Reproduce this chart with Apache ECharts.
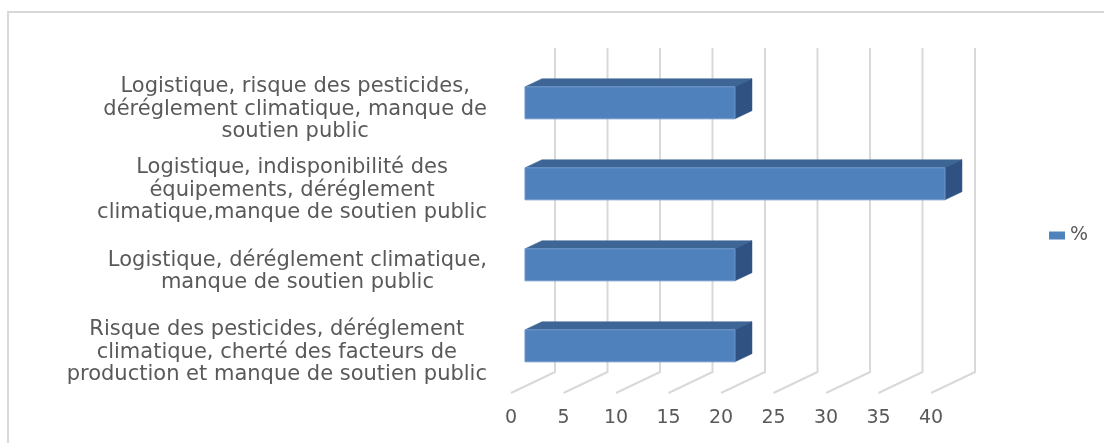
<!DOCTYPE html>
<html>
<head>
<meta charset="utf-8">
<script src="https://cdn.jsdelivr.net/npm/echarts@6/dist/echarts.min.js"></script>
<style>html,body{margin:0;padding:0;background:#fff;}#chart{width:1104px;height:443px;}</style>
</head>
<body>
<div id="chart"></div>
<script>
// ---- data ----
const categories = [
  "Logistique, risque des pesticides,\ndéréglement climatique, manque de\nsoutien public",
  "Logistique, indisponibilité des\néquipements, déréglement\nclimatique,manque de soutien public",
  "Logistique, déréglement climatique,\nmanque de soutien public",
  "Risque des pesticides, déréglement\nclimatique, cherté des facteurs de\nproduction et manque de soutien public"
];
const seriesName = "%";
const values = [20, 40, 20, 20];
const tickValues = [0, 5, 10, 15, 20, 25, 30, 35, 40];

// ---- style constants ----
const DX = 44, DY = 21;          // depth of the 3D floor
const FRONT = '#4f81bd', TOP = '#3d6596', SIDE = '#2f5282';
const GRID_COLOR = '#d9d9d9';
const TEXT = '#595959';
const FONT = 'DejaVu Sans';

const chart = echarts.init(document.getElementById('chart'));

function renderBar(params, api) {
  const v = api.value(0), c = api.value(1);
  const s = api.coord([0, c]), e = api.coord([v, c]);
  const band = api.size([0, 1])[1];
  const h = band * 0.395;
  const ox = DX * 0.318, oy = -DY * 0.318;
  const dx = DX * 0.386, dy = -DY * 0.386;
  const x0 = s[0] + ox, x1 = e[0] + ox, yc = s[1] + oy;
  const y0 = yc - h / 2, y1 = yc + h / 2;
  return {
    type: 'group',
    children: [
      { type: 'polygon', shape: { points: [[x0, y0], [x1, y0], [x1 + dx, y0 + dy], [x0 + dx, y0 + dy]] },
        style: { fill: TOP, stroke: TOP, lineWidth: 0.5 } },
      { type: 'polygon', shape: { points: [[x1, y0], [x1, y1], [x1 + dx, y1 + dy], [x1 + dx, y0 + dy]] },
        style: { fill: SIDE, stroke: SIDE, lineWidth: 0.5 } },
      { type: 'rect', shape: { x: x0, y: y0, width: x1 - x0, height: h },
        style: { fill: FRONT, stroke: '#6f97c9', lineWidth: 1 } }
    ]
  };
}

function renderGridLine(params, api) {
  const cs = params.coordSys;
  const x = api.coord([api.value(0), 0])[0];
  const yb = cs.y + cs.height;
  return {
    type: 'polyline',
    shape: { points: [[x + DX, cs.y - DY], [x + DX, yb - DY], [x, yb]] },
    style: { fill: null, stroke: GRID_COLOR, lineWidth: 2 }
  };
}

chart.setOption({
  animation: false,
  backgroundColor: '#fff',
  graphic: [{
    type: 'rect', z: -10, silent: true,
    shape: { x: 8, y: 12, width: 1110, height: 450 },
    style: { fill: 'none', stroke: '#d9d9d9', lineWidth: 2 }
  }],
  legend: {
    data: [seriesName], left: 1044, top: 221, icon: 'rect',
    itemWidth: 16, itemHeight: 8, itemGap: 6,
    textStyle: { color: TEXT, fontSize: 19, fontFamily: FONT }
  },
  grid: { left: 511, top: 69, width: 420, height: 324 },
  xAxis: {
    type: 'value', min: 0, max: 40, interval: 5,
    axisLine: { show: false }, axisTick: { show: false }, splitLine: { show: false },
    axisLabel: { color: TEXT, fontSize: 19, fontFamily: FONT, margin: 16 }
  },
  yAxis: {
    type: 'category', inverse: true, data: categories,
    axisLine: { show: false }, axisTick: { show: false }, splitLine: { show: false },
    axisLabel: {
      margin: 24, align: 'right',
      formatter: function (val) {
        return val.split('\n').map(l => '{c|' + l + '}').join('\n');
      },
      rich: { c: { align: 'center', color: TEXT, fontSize: 21, fontFamily: FONT, lineHeight: 22.5 } }
    }
  },
  series: [
    {
      type: 'custom', name: '_grid', clip: false, silent: true, z: 1,
      renderItem: renderGridLine,
      encode: { x: 0, y: 1 },
      data: tickValues.map(t => [t, 0])
    },
    {
      type: 'custom', name: seriesName, clip: false, z: 2,
      itemStyle: { color: FRONT },
      renderItem: renderBar,
      encode: { x: 0, y: 1 },
      data: values.map((v, i) => [v, i])
    }
  ]
});
</script>
</body>
</html>
